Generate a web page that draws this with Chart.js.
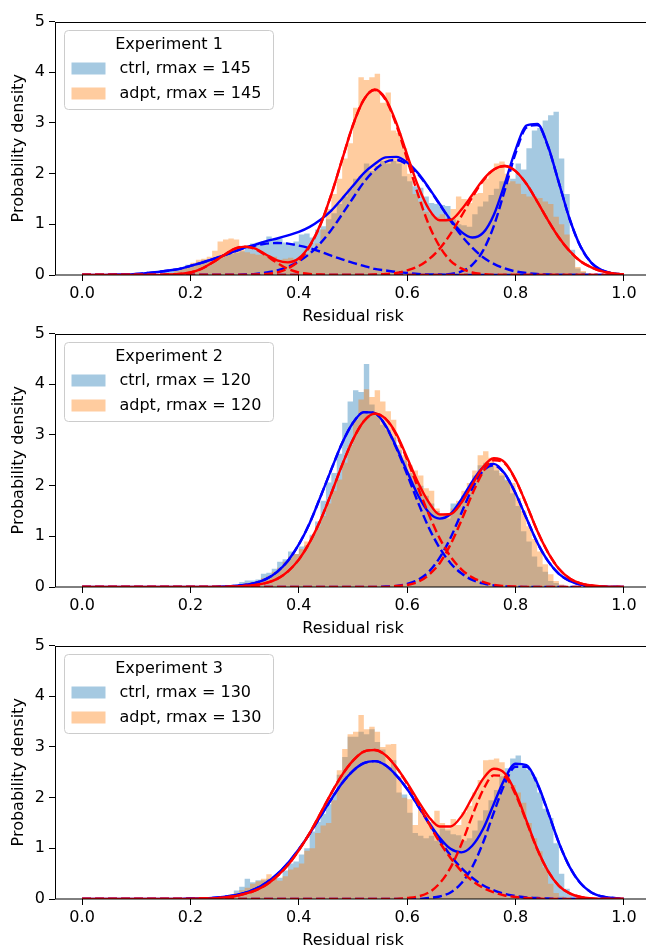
<!DOCTYPE html>
<html>
<head>
<meta charset="utf-8">
<script src="https://cdn.jsdelivr.net/npm/chart.js@4.4.0/dist/chart.umd.min.js"></script>
<style>
  html, body { margin: 0; padding: 0; background: #fff; overflow: hidden; width: 646px; height: 950px; }
  .panel { position: absolute; left: 0; width: 660px; height: 318px; }
</style>
</head>
<body>
<div class="panel" style="top:8px"><canvas id="c1"></canvas></div>
<div class="panel" style="top:320px"><canvas id="c2"></canvas></div>
<div class="panel" style="top:632px"><canvas id="c3"></canvas></div>
<script>
const experiments = ['Experiment 1', 'Experiment 2', 'Experiment 3'];
const rmax = [145, 120, 130];
const xTicks = [0, 0.2, 0.4, 0.6, 0.8, 1.0];
const yTicks = [0, 1, 2, 3, 4, 5];

/* --------------- Histograms (density per 0.01 bin, first bin edge in histStart) --------------- */
const binWidth = 0.01;
const histStart = [0.15, 0.27, 0.24];

const ctrlHist1 = [0.06, 0.08, 0.12, 0.16, 0.2, 0.22, 0.26, 0.3, 0.31, 0.34,
  0.38, 0.4, 0.42, 0.44, 0.47, 0.55, 0.62, 0.64, 0.66, 0.76,
  0.7, 0.72, 0.64, 0.6, 0.66, 0.8, 0.82, 0.74, 0.9, 0.96,
  1.1, 1.22, 1.4, 1.55, 1.7, 1.9, 1.95, 2.2, 2.05, 2.15,
  2.25, 2.2, 2.25, 2.2, 1.95, 1.85, 1.75, 1.72, 1.55, 1.42,
  1.4, 1.38, 1.36, 1.1, 1.0, 0.98, 0.95, 1.2, 1.35, 1.45,
  1.58, 1.7, 1.85, 1.82, 1.9, 2.2, 2.08, 2.5, 2.85, 2.9,
  3.05, 3.15, 3.22, 2.3, 1.6, 0.5, 0.13, 0.06, 0.03];
const adptHist1 = [0.02, 0.04, 0.08, 0.12, 0.18, 0.24, 0.3, 0.32, 0.36, 0.48,
  0.66, 0.7, 0.72, 0.7, 0.5, 0.45, 0.42, 0.4, 0.4, 0.38,
  0.36, 0.3, 0.32, 0.34, 0.3, 0.34, 0.42, 0.5, 0.62, 0.9,
  1.3, 1.6, 1.9, 2.3, 2.6, 3.3, 3.9, 3.85, 3.9, 3.97,
  3.4, 3.6, 2.85, 2.8, 2.5, 2.0, 1.6, 1.45, 1.25, 1.2,
  1.15, 1.2, 1.1, 1.3, 1.55, 1.5, 1.42, 1.6, 1.62, 1.9,
  2.05, 2.2, 2.24, 2.0, 1.85, 1.8, 1.6, 1.55, 1.55, 1.52,
  1.45, 1.4, 1.15, 1.0, 0.8, 0.4, 0.16, 0.08, 0.03];

const ctrlHist2 = [0.02, 0.05, 0.1, 0.13, 0.13, 0.15, 0.26, 0.28, 0.36, 0.5,
  0.55, 0.7, 0.65, 0.8, 0.82, 1.03, 1.29, 1.7, 2.06, 2.25,
  2.63, 3.24, 3.66, 3.88, 3.85, 4.4, 3.6, 3.4, 3.2, 3.1,
  2.95, 2.7, 2.5, 2.25, 2.1, 2.0, 1.8, 1.65, 1.5, 1.4,
  1.35, 1.65, 1.6, 1.8, 1.95, 2.2, 2.4, 2.45, 2.4, 2.3,
  2.2, 2.12, 1.85, 1.6, 1.1, 0.9, 0.6, 0.4, 0.3, 0.12,
  0.08, 0.03];
const adptHist2 = [0.01, 0.03, 0.05, 0.08, 0.1, 0.12, 0.18, 0.22, 0.3, 0.38,
  0.5, 0.6, 0.65, 0.75, 0.9, 1.0, 1.2, 1.4, 1.65, 1.9,
  2.12, 2.45, 2.8, 3.3, 3.7, 3.9, 3.75, 3.88, 3.66, 3.47,
  3.3, 2.8, 2.6, 2.4, 2.3, 2.2, 1.95, 1.9, 1.55, 1.45,
  1.42, 1.55, 1.7, 1.9, 2.05, 2.3, 2.6, 2.68, 2.55, 2.4,
  2.25, 2.1, 2.05, 1.75, 1.5, 1.2, 0.95, 0.7, 0.45, 0.25,
  0.12, 0.05, 0.02];

const ctrlHist3 = [0.02, 0.04, 0.06, 0.1, 0.17, 0.24, 0.4, 0.33, 0.37, 0.37,
  0.4, 0.42, 0.42, 0.56, 0.7, 0.74, 0.88, 1.0, 1.33, 1.52,
  1.68, 1.87, 2.1, 2.45, 2.8, 3.2, 3.2, 3.3, 3.25, 3.35,
  3.1, 2.95, 2.6, 2.74, 2.1, 2.06, 1.7, 1.3, 1.25, 1.2,
  1.25, 1.15, 1.39, 1.35, 1.28, 1.26, 1.15, 1.2, 1.35, 1.55,
  1.75, 1.95, 2.15, 2.42, 2.58, 2.77, 2.83, 2.64, 2.55, 2.4,
  2.1, 1.78, 1.6, 1.1, 0.5, 0.2, 0.08, 0.03];
const adptHist3 = [0.01, 0.02, 0.04, 0.08, 0.12, 0.18, 0.22, 0.3, 0.35, 0.4,
  0.49, 0.4, 0.36, 0.45, 0.58, 0.62, 0.7, 0.95, 1.0, 1.3,
  1.45, 1.5, 1.95, 2.54, 2.96, 3.25, 3.3, 3.63, 3.35, 3.4,
  3.3, 3.0, 3.05, 3.06, 2.42, 2.0, 1.97, 1.46, 1.78, 1.65,
  1.52, 1.74, 1.5, 1.39, 1.58, 1.46, 1.71, 1.84, 2.1, 2.35,
  2.74, 2.75, 2.77, 2.7, 2.45, 2.25, 2.1, 1.9, 1.5, 1.2,
  0.94, 0.62, 0.3, 0.12, 0.05];

/* --------------- Fitted mixture curves, sampled at x = 0.00, 0.02 ... 1.00 --------------- */
const fitX = Array.from({ length: 51 }, (_, i) => Math.round(i * 2) / 100);

const ctrlFit1 = [0, 0, 0, 0.01, 0.01, 0.02, 0.04, 0.06, 0.09, 0.12,
  0.18, 0.24, 0.31, 0.38, 0.46, 0.54, 0.60, 0.67, 0.72, 0.78,
  0.85, 0.95, 1.09, 1.27, 1.51, 1.76, 2.01, 2.19, 2.32, 2.33,
  2.22, 2.01, 1.72, 1.40, 1.09, 0.85, 0.74, 0.83, 1.19, 1.80,
  2.47, 2.95, 2.98, 2.54, 1.82, 1.10, 0.56, 0.24, 0.09, 0.03, 0.01];
const ctrlComp1a = [0, 0, 0, 0.01, 0.01, 0.02, 0.04, 0.06, 0.09, 0.12,
  0.18, 0.24, 0.31, 0.38, 0.46, 0.53, 0.58, 0.62, 0.63, 0.62,
  0.58, 0.53, 0.46, 0.38, 0.31, 0.24, 0.18, 0.12, 0.09, 0.06,
  0.04, 0.02, 0.01, 0.01, 0, 0, 0, 0, 0, 0,
  0, 0, 0, 0, 0, 0, 0, 0, 0, 0, 0];
const ctrlComp1b = [0, 0, 0, 0, 0, 0, 0, 0, 0, 0,
  0, 0, 0, 0, 0, 0.01, 0.02, 0.05, 0.09, 0.16,
  0.27, 0.42, 0.63, 0.89, 1.20, 1.52, 1.83, 2.07, 2.23, 2.27,
  2.18, 1.99, 1.71, 1.39, 1.07, 0.78, 0.54, 0.35, 0.22, 0.13,
  0.07, 0.04, 0.02, 0.01, 0, 0, 0, 0, 0, 0, 0];
const ctrlComp1c = [0, 0, 0, 0, 0, 0, 0, 0, 0, 0,
  0, 0, 0, 0, 0, 0, 0, 0, 0, 0,
  0, 0, 0, 0, 0, 0, 0, 0, 0, 0,
  0, 0, 0, 0, 0.02, 0.07, 0.20, 0.48, 0.97, 1.67,
  2.40, 2.91, 2.96, 2.53, 1.82, 1.10, 0.56, 0.24, 0.09, 0.03, 0.01];

const adptFit1 = [0, 0, 0, 0, 0, 0, 0, 0, 0.01, 0.02,
  0.05, 0.12, 0.24, 0.38, 0.51, 0.56, 0.52, 0.40, 0.29, 0.25,
  0.33, 0.58, 1.00, 1.59, 2.28, 2.96, 3.46, 3.66, 3.48, 3.00,
  2.37, 1.76, 1.30, 1.08, 1.09, 1.29, 1.58, 1.88, 2.08, 2.15,
  2.05, 1.80, 1.45, 1.08, 0.74, 0.47, 0.27, 0.15, 0.07, 0.03, 0.01];
const adptComp1a = [0, 0, 0, 0, 0, 0, 0, 0, 0.01, 0.02,
  0.05, 0.12, 0.24, 0.38, 0.51, 0.56, 0.51, 0.38, 0.24, 0.12,
  0.05, 0.02, 0.01, 0, 0, 0, 0, 0, 0, 0,
  0, 0, 0, 0, 0, 0, 0, 0, 0, 0,
  0, 0, 0, 0, 0, 0, 0, 0, 0, 0, 0];
const adptComp1b = [0, 0, 0, 0, 0, 0, 0, 0, 0, 0,
  0, 0, 0, 0, 0, 0, 0.01, 0.02, 0.05, 0.13,
  0.28, 0.56, 0.99, 1.59, 2.28, 2.96, 3.46, 3.65, 3.46, 2.96,
  2.28, 1.59, 0.99, 0.56, 0.28, 0.13, 0.05, 0.02, 0, 0,
  0, 0, 0, 0, 0, 0, 0, 0, 0, 0, 0];
const adptComp1c = [0, 0, 0, 0, 0, 0, 0, 0, 0, 0,
  0, 0, 0, 0, 0, 0, 0, 0, 0, 0,
  0, 0, 0, 0, 0, 0, 0, 0.01, 0.02, 0.04,
  0.09, 0.17, 0.31, 0.52, 0.81, 1.16, 1.53, 1.86, 2.08, 2.15,
  2.05, 1.80, 1.45, 1.08, 0.74, 0.47, 0.27, 0.15, 0.07, 0.03, 0.01];

const ctrlFit2 = [0, 0, 0, 0, 0, 0, 0, 0, 0, 0,
  0, 0, 0, 0.01, 0.02, 0.04, 0.08, 0.16, 0.30, 0.52,
  0.84, 1.26, 1.78, 2.32, 2.84, 3.24, 3.45, 3.43, 3.19, 2.76,
  2.28, 1.81, 1.47, 1.35, 1.44, 1.73, 2.08, 2.36, 2.43, 2.24,
  1.85, 1.36, 0.88, 0.51, 0.26, 0.12, 0.05, 0.02, 0.01, 0, 0];
const ctrlComp2a = [0, 0, 0, 0, 0, 0, 0, 0, 0, 0,
  0, 0, 0, 0.01, 0.02, 0.04, 0.08, 0.16, 0.30, 0.52,
  0.84, 1.26, 1.78, 2.32, 2.84, 3.24, 3.45, 3.43, 3.18, 2.74,
  2.22, 1.67, 1.17, 0.77, 0.47, 0.27, 0.14, 0.07, 0.03, 0.01,
  0, 0, 0, 0, 0, 0, 0, 0, 0, 0, 0];
const ctrlComp2b = [0, 0, 0, 0, 0, 0, 0, 0, 0, 0,
  0, 0, 0, 0, 0, 0, 0, 0, 0, 0,
  0, 0, 0, 0, 0, 0, 0, 0, 0.01, 0.02,
  0.06, 0.14, 0.30, 0.58, 0.97, 1.46, 1.94, 2.29, 2.40, 2.23,
  1.85, 1.36, 0.88, 0.51, 0.26, 0.12, 0.05, 0.02, 0.01, 0, 0];

const adptFit2 = [0, 0, 0, 0, 0, 0, 0, 0, 0, 0,
  0, 0, 0, 0, 0.01, 0.02, 0.04, 0.08, 0.16, 0.31,
  0.54, 0.88, 1.32, 1.85, 2.41, 2.91, 3.27, 3.42, 3.32, 3.02,
  2.55, 2.06, 1.67, 1.43, 1.44, 1.66, 2.02, 2.37, 2.54, 2.46,
  2.12, 1.63, 1.11, 0.68, 0.36, 0.17, 0.07, 0.03, 0.01, 0, 0];
const adptComp2a = [0, 0, 0, 0, 0, 0, 0, 0, 0, 0,
  0, 0, 0, 0, 0.01, 0.02, 0.04, 0.08, 0.16, 0.31,
  0.54, 0.88, 1.32, 1.85, 2.41, 2.91, 3.27, 3.42, 3.32, 3.00,
  2.51, 1.96, 1.43, 0.96, 0.60, 0.35, 0.19, 0.10, 0.04, 0.02,
  0.01, 0, 0, 0, 0, 0, 0, 0, 0, 0, 0];
const adptComp2b = [0, 0, 0, 0, 0, 0, 0, 0, 0, 0,
  0, 0, 0, 0, 0, 0, 0, 0, 0, 0,
  0, 0, 0, 0, 0, 0, 0, 0, 0, 0.02,
  0.04, 0.10, 0.24, 0.47, 0.84, 1.31, 1.83, 2.27, 2.50, 2.44,
  2.11, 1.63, 1.11, 0.68, 0.36, 0.17, 0.07, 0.03, 0.01, 0, 0];

const ctrlFit3 = [0, 0, 0, 0, 0, 0, 0, 0, 0, 0,
  0.01, 0.01, 0.02, 0.04, 0.07, 0.12, 0.20, 0.32, 0.49, 0.71,
  0.98, 1.29, 1.63, 1.97, 2.29, 2.53, 2.68, 2.72, 2.64, 2.44,
  2.17, 1.84, 1.51, 1.21, 0.99, 0.92, 1.05, 1.38, 1.88, 2.37,
  2.67, 2.64, 2.29, 1.72, 1.11, 0.63, 0.31, 0.13, 0.05, 0.02, 0];
const ctrlComp3a = [0, 0, 0, 0, 0, 0, 0, 0, 0, 0,
  0.01, 0.01, 0.02, 0.04, 0.07, 0.12, 0.20, 0.32, 0.49, 0.71,
  0.98, 1.29, 1.63, 1.97, 2.29, 2.53, 2.68, 2.72, 2.64, 2.44,
  2.17, 1.84, 1.49, 1.16, 0.86, 0.61, 0.42, 0.27, 0.17, 0.10,
  0.06, 0.03, 0.02, 0.01, 0, 0, 0, 0, 0, 0, 0];
const ctrlComp3b = [0, 0, 0, 0, 0, 0, 0, 0, 0, 0,
  0, 0, 0, 0, 0, 0, 0, 0, 0, 0,
  0, 0, 0, 0, 0, 0, 0, 0, 0, 0,
  0, 0, 0.02, 0.05, 0.13, 0.31, 0.63, 1.11, 1.71, 2.27,
  2.61, 2.61, 2.27, 1.71, 1.11, 0.63, 0.31, 0.13, 0.05, 0.02, 0];

const adptFit3 = [0, 0, 0, 0, 0, 0, 0, 0, 0, 0,
  0, 0.01, 0.01, 0.03, 0.05, 0.10, 0.17, 0.28, 0.45, 0.67,
  0.96, 1.30, 1.69, 2.09, 2.45, 2.73, 2.91, 2.94, 2.84, 2.60,
  2.29, 1.94, 1.62, 1.43, 1.43, 1.63, 2.00, 2.37, 2.57, 2.48,
  2.10, 1.55, 0.99, 0.55, 0.26, 0.11, 0.04, 0.01, 0, 0, 0];
const adptComp3a = [0, 0, 0, 0, 0, 0, 0, 0, 0, 0,
  0, 0.01, 0.01, 0.03, 0.05, 0.10, 0.17, 0.28, 0.45, 0.67,
  0.96, 1.30, 1.69, 2.09, 2.45, 2.73, 2.91, 2.94, 2.84, 2.60,
  2.27, 1.89, 1.49, 1.12, 0.81, 0.55, 0.36, 0.22, 0.13, 0.07,
  0.04, 0.02, 0.01, 0, 0, 0, 0, 0, 0, 0, 0];
const adptComp3b = [0, 0, 0, 0, 0, 0, 0, 0, 0, 0,
  0, 0, 0, 0, 0, 0, 0, 0, 0, 0,
  0, 0, 0, 0, 0, 0, 0, 0, 0, 0,
  0.02, 0.05, 0.13, 0.31, 0.62, 1.08, 1.64, 2.15, 2.44, 2.41,
  2.06, 1.53, 0.98, 0.55, 0.26, 0.11, 0.04, 0.01, 0, 0, 0];

/* --------------- Colors  --------------------- */
const ctrlFill = 'rgba(31,119,180,0.4)';
const adptFill = 'rgba(255,127,14,0.4)';
const ctrlLine = '#0000ff';
const adptLine = '#ff0000';

Chart.defaults.font.family = '"DejaVu Sans", sans-serif';
Chart.defaults.font.size = 16;
Chart.defaults.color = '#000';

const panels = [
  { ctrl: ctrlHist1, adpt: adptHist1, ctrlFit: ctrlFit1, adptFit: adptFit1,
    ctrlComps: [ctrlComp1a, ctrlComp1b, ctrlComp1c], adptComps: [adptComp1a, adptComp1b, adptComp1c] },
  { ctrl: ctrlHist2, adpt: adptHist2, ctrlFit: ctrlFit2, adptFit: adptFit2,
    ctrlComps: [ctrlComp2a, ctrlComp2b], adptComps: [adptComp2a, adptComp2b] },
  { ctrl: ctrlHist3, adpt: adptHist3, ctrlFit: ctrlFit3, adptFit: adptFit3,
    ctrlComps: [ctrlComp3a, ctrlComp3b], adptComps: [adptComp3a, adptComp3b] },
];

// histogram as a filled step line: one point per left bin edge, closed at the last right edge
function histPoints(start, values) {
  const pts = values.map((v, i) => ({ x: start + i * binWidth, y: v }));
  pts.push({ x: start + values.length * binWidth, y: 0 });
  return pts;
}
const curve = ys => fitX.map((x, i) => ({ x, y: ys[i] }));

function histSet(label, start, values, color, order) {
  return {
    label, data: histPoints(start, values), order,
    stepped: true, fill: 'origin', backgroundColor: color,
    borderColor: 'rgba(0,0,0,0)', borderWidth: 0, pointRadius: 0,
  };
}
function lineSet(ys, color, dashed, order) {
  return {
    label: '', data: curve(ys), order,
    borderColor: color, borderWidth: 2.4, borderDash: dashed ? [9, 4] : [],
    pointRadius: 0, fill: false, cubicInterpolationMode: 'monotone',
  };
}

/* --------------- Frame + legend box in matplotlib style --------------------- */
const legendBox = {
  id: 'legendBox',
  afterDraw(chart, args, opts) {
    const { ctx, chartArea: a } = chart;
    const items = chart.data.datasets.filter(d => d.label);
    ctx.save();
    ctx.strokeStyle = '#000';
    ctx.lineWidth = 1;
    const l = Math.round(a.left) + 0.5, t = Math.round(a.top) + 0.5;
    ctx.strokeRect(l, t, Math.round(a.right) - l, Math.round(a.bottom) - t);

    ctx.font = '16px "DejaVu Sans"';
    const textW = Math.max(...items.map(d => ctx.measureText(d.label).width));
    const x = Math.round(a.left) + 9.5, y = Math.round(a.top) + 8.5;
    const w = Math.round(54 + textW + 13), h = 79;
    ctx.beginPath();
    ctx.roundRect(x, y, w, h, 4);
    ctx.fillStyle = 'rgba(255,255,255,0.8)';
    ctx.fill();
    ctx.strokeStyle = '#cccccc';
    ctx.stroke();

    ctx.fillStyle = '#000';
    ctx.textBaseline = 'middle';
    ctx.textAlign = 'center';
    ctx.fillText(opts.title, x + w / 2, y + 14);
    ctx.textAlign = 'left';
    items.forEach((d, i) => {
      const cy = y + 38 + i * 25;
      ctx.fillStyle = d.backgroundColor;
      ctx.fillRect(x + 7, cy - 6, 34, 12);
      ctx.fillStyle = '#000';
      ctx.fillText(d.label, x + 55, cy);
    });
    ctx.restore();
  }
};

panels.forEach((p, k) => {
  const datasets = [
    histSet(`ctrl, rmax = ${rmax[k]}`, histStart[k], p.ctrl, ctrlFill, 4),
    histSet(`adpt, rmax = ${rmax[k]}`, histStart[k], p.adpt, adptFill, 3),
    lineSet(p.ctrlFit, ctrlLine, false, 2),
    ...p.ctrlComps.map(c => lineSet(c, ctrlLine, true, 2)),
    lineSet(p.adptFit, adptLine, false, 1),
    ...p.adptComps.map(c => lineSet(c, adptLine, true, 1)),
  ];
  new Chart(document.getElementById('c' + (k + 1)), {
    type: 'line',
    data: { datasets },
    plugins: [legendBox],
    options: {
      responsive: true,
      maintainAspectRatio: false,
      animation: false,
      devicePixelRatio: 1,
      layout: { padding: { top: 7, right: 9, left: 0, bottom: 0 } },
      plugins: {
        legend: { display: false },
        tooltip: { enabled: false },
        legendBox: { title: experiments[k] },
      },
      scales: {
        x: {
          type: 'linear', min: -0.05, max: 1.05, offset: false,
          grid: { drawOnChartArea: false, tickLength: 6, color: '#000', offset: false },
          border: { display: false },
          afterBuildTicks: s => { s.ticks = xTicks.map(v => ({ value: v })); },
          afterFit: s => { s.height = 51; },
          ticks: { padding: 3, maxRotation: 0, autoSkip: false, callback: v => v.toFixed(1) },
          title: { display: true, text: 'Residual risk', padding: { top: 0, bottom: 0 } },
        },
        y: {
          type: 'linear', min: 0, max: 5,
          grid: { drawOnChartArea: false, tickLength: 6, color: '#000' },
          border: { display: false },
          afterBuildTicks: s => { s.ticks = yTicks.map(v => ({ value: v })); },
          afterFit: s => { s.width = 55; },
          ticks: { padding: 4, callback: v => String(v) },
          title: { display: true, text: 'Probability density', padding: { top: 9, bottom: 0 } },
        },
      },
    },
  });
});
</script>
</body>
</html>
